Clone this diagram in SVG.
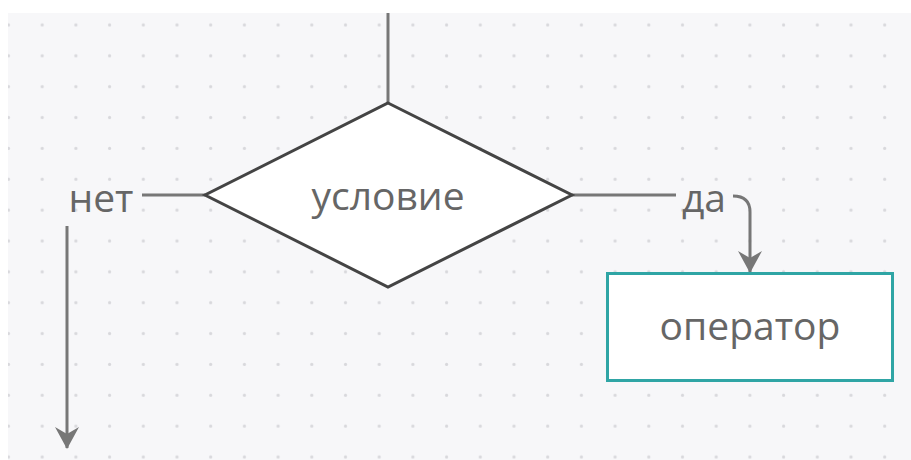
<svg xmlns="http://www.w3.org/2000/svg" width="911" height="460" viewBox="0 0 911 460">
<defs>
<pattern id="dots" x="0" y="9.6" width="33.7" height="30.86" patternUnits="userSpaceOnUse">
<circle cx="8.5" cy="15.4" r="1.6" fill="#d8d8dc"/>
</pattern>
<marker id="arr" viewBox="0 0 22 24" refX="21" refY="12" markerWidth="22" markerHeight="24" markerUnits="userSpaceOnUse" orient="auto">
<path d="M0,0 L22,12 L0,24 L7,12 Z" fill="#777"/>
</marker>
</defs>
<style>
.lbl{font-family:"Open Sans","Noto Sans",sans-serif;font-size:39px;fill:#666;text-anchor:middle}
.con{fill:none;stroke:#777;stroke-width:3}
</style>
<rect width="911" height="460" fill="#ffffff"/>
<rect x="8" y="13" width="903" height="447" fill="#f7f7f9"/>
<rect x="8" y="13" width="903" height="447" fill="url(#dots)"/>
<g id="connectors">
<line class="con" x1="388" y1="13" x2="388" y2="103"/>
<line class="con" x1="205" y1="195" x2="142" y2="195"/>
<line class="con" x1="572" y1="195" x2="676" y2="195"/>
<path class="con" d="M733,196 Q750,196 750,212 L750,272" marker-end="url(#arr)"/>
<line class="con" x1="67" y1="226" x2="67" y2="448" marker-end="url(#arr)"/>
<text class="lbl" x="101" y="212">нет</text>
<text class="lbl" x="704" y="212">да</text>
</g>
<g id="condition">
<polygon points="388,103 572,195 388,287 205,195" fill="#ffffff" stroke="#444" stroke-width="3" stroke-linejoin="miter"/>
<text class="lbl" x="388" y="210">условие</text>
</g>
<g id="operator">
<rect x="607.5" y="273.5" width="285" height="107" fill="#ffffff" stroke="#2fa5a5" stroke-width="3"/>
<text class="lbl" x="750" y="340">оператор</text>
</g>
</svg>
